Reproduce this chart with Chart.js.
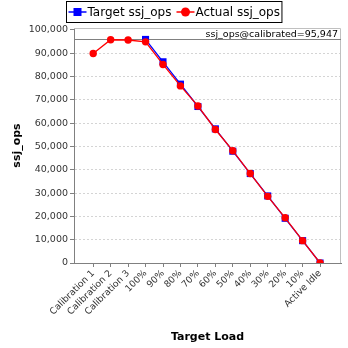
<!DOCTYPE html>
<html>
<head>
<meta charset="utf-8">
<script src="https://cdn.jsdelivr.net/npm/chart.js@4/dist/chart.umd.min.js"></script>
<style>
  html, body { margin: 0; padding: 0; background: #fff; }
  #c { display: block; }
</style>
</head>
<body>
<canvas id="c" width="348" height="348"></canvas>
<script>
// Load levels along the x axis
const loadLabels = ['Calibration 1', 'Calibration 2', 'Calibration 3', '100%', '90%', '80%',
  '70%', '60%', '50%', '40%', '30%', '20%', '10%', 'Active Idle'];
// Target throughput per load level (none for calibration runs)
const targetOps = [null, null, null, 95947, 86352, 76758, 67163, 57568, 47974, 38379, 28784, 19189, 9595, 0];
// Measured throughput per load level
const actualOps = [89900, 95800, 95700, 94900, 85200, 76000, 67400, 57300, 48200, 38400, 28600, 19400, 9600, 0];
// Calibrated reference throughput
const calibratedOps = 95947;
// Y axis tick values
const yTicks = [0, 10000, 20000, 30000, 40000, 50000, 60000, 70000, 80000, 90000, 100000];

const FONT = 'DejaVu Sans';
const fmt = v => Number(v).toLocaleString('en-US');

function toPoints(values) {
  const pts = [];
  values.forEach((v, i) => { if (v !== null) pts.push({ x: i, y: v }); });
  return pts;
}

// Plot frame, calibrated reference line and its label
const framePlugin = {
  id: 'frame',
  beforeDatasetsDraw(chart) {
    const { ctx, chartArea: a, scales: { y } } = chart;
    ctx.save();
    ctx.strokeStyle = '#c0c0c0';
    ctx.lineWidth = 1;
    ctx.beginPath();
    ctx.moveTo(a.left, a.top + 0.5);
    ctx.lineTo(a.right - 0.5, a.top + 0.5);
    ctx.lineTo(a.right - 0.5, a.bottom);
    ctx.stroke();

    const yc = Math.round(y.getPixelForValue(calibratedOps)) + 0.5;
    ctx.strokeStyle = '#808080';
    ctx.beginPath();
    ctx.moveTo(a.left, yc);
    ctx.lineTo(a.right, yc);
    ctx.stroke();

    ctx.fillStyle = '#000';
    ctx.font = '9.5px "' + FONT + '"';
    ctx.textAlign = 'right';
    ctx.textBaseline = 'alphabetic';
    ctx.fillText('ssj_ops@calibrated=' + fmt(calibratedOps), a.right - 3, yc - 2.5);
    ctx.restore();
  }
};

// Boxed legend above the plot
const legendPlugin = {
  id: 'boxLegend',
  afterDraw(chart) {
    const { ctx } = chart;
    const items = chart.data.datasets.map(ds => ({
      text: ds.label, color: ds.borderColor, style: ds.pointStyle
    }));
    ctx.save();
    ctx.font = '12px "' + FONT + '"';
    const sym = 18, gap = 1, itemGap = 5, padX = 2;
    let total = padX * 2;
    items.forEach((it, i) => {
      it.w = ctx.measureText(it.text).width;
      total += sym + gap + it.w + (i ? itemGap : 0);
    });
    const cx = chart.width / 2;
    const x0 = Math.round(cx - total / 2) + 0.5;
    const top = 1.5, h = 21, mid = top + h / 2;
    ctx.strokeStyle = '#000';
    ctx.lineWidth = 1;
    ctx.strokeRect(x0, top, total, h);
    let x = x0 + padX;
    items.forEach((it, i) => {
      if (i) x += itemGap;
      ctx.strokeStyle = it.color;
      ctx.fillStyle = it.color;
      ctx.lineWidth = 1.5;
      ctx.beginPath();
      ctx.moveTo(x, mid);
      ctx.lineTo(x + sym, mid);
      ctx.stroke();
      const px = x + sym / 2;
      if (it.style === 'rect') {
        ctx.fillRect(px - 4, mid - 4, 8, 8);
      } else {
        ctx.beginPath();
        ctx.arc(px, mid, 4.5, 0, Math.PI * 2);
        ctx.fill();
      }
      x += sym + gap;
      ctx.fillStyle = '#000';
      ctx.textAlign = 'left';
      ctx.textBaseline = 'middle';
      ctx.fillText(it.text, x, mid + 0.5);
      x += it.w;
    });
    ctx.restore();
  }
};

new Chart(document.getElementById('c'), {
  type: 'line',
  data: {
    datasets: [
      {
        label: 'Target ssj_ops',
        data: toPoints(targetOps),
        borderColor: '#0000ff',
        backgroundColor: '#0000ff',
        borderWidth: 1.3,
        pointStyle: 'rect',
        pointRadius: 5,
        pointBorderWidth: 0,
        order: 2
      },
      {
        label: 'Actual ssj_ops',
        data: toPoints(actualOps),
        borderColor: '#ff0000',
        backgroundColor: '#ff0000',
        borderWidth: 1.3,
        pointStyle: 'circle',
        pointRadius: 3.7,
        pointBorderWidth: 0,
        order: 1
      }
    ]
  },
  options: {
    responsive: false,
    animation: false,
    devicePixelRatio: 1,
    layout: { padding: { top: 28, right: 7, left: 0, bottom: 0 } },
    plugins: { legend: { display: false }, tooltip: { enabled: false } },
    scales: {
      x: {
        type: 'linear',
        min: -1.1,
        max: 14.2,
        afterBuildTicks: s => { s.ticks = loadLabels.map((_, i) => ({ value: i })); },
        afterFit: s => { s.height = 85; },
        ticks: {
          autoSkip: false,
          maxRotation: 45,
          minRotation: 45,
          padding: 1,
          color: '#333',
          font: { family: FONT, size: 9.2 },
          callback: v => loadLabels[v]
        },
        grid: { drawOnChartArea: false, tickLength: 4, color: '#808080' },
        border: { color: '#808080' },
        title: {
          display: true,
          text: 'Target Load',
          color: '#000',
          font: { family: FONT, size: 11, weight: 'bold' },
          padding: { top: 4, bottom: 4 }
        }
      },
      y: {
        min: 0,
        max: 100850,
        afterBuildTicks: s => { s.ticks = yTicks.map(v => ({ value: v })); },
        afterFit: s => { s.width = 74; },
        ticks: {
          padding: 2,
          color: '#333',
          font: { family: FONT, size: 9.5 },
          callback: v => fmt(v)
        },
        grid: {
          color: c => (c.tick && c.tick.value > 0 && c.tick.value < 100000) ? '#d4d4d4' : 'rgba(0,0,0,0)',
          tickLength: 4,
          tickColor: '#808080',
          tickBorderDash: []
        },
        border: { color: '#808080', dash: [2, 2] },
        title: {
          display: true,
          text: 'ssj_ops',
          color: '#000',
          font: { family: FONT, size: 11, weight: 'bold' },
          padding: { top: 11, bottom: 4 }
        }
      }
    }
  },
  plugins: [framePlugin, legendPlugin]
});
</script>
</body>
</html>
